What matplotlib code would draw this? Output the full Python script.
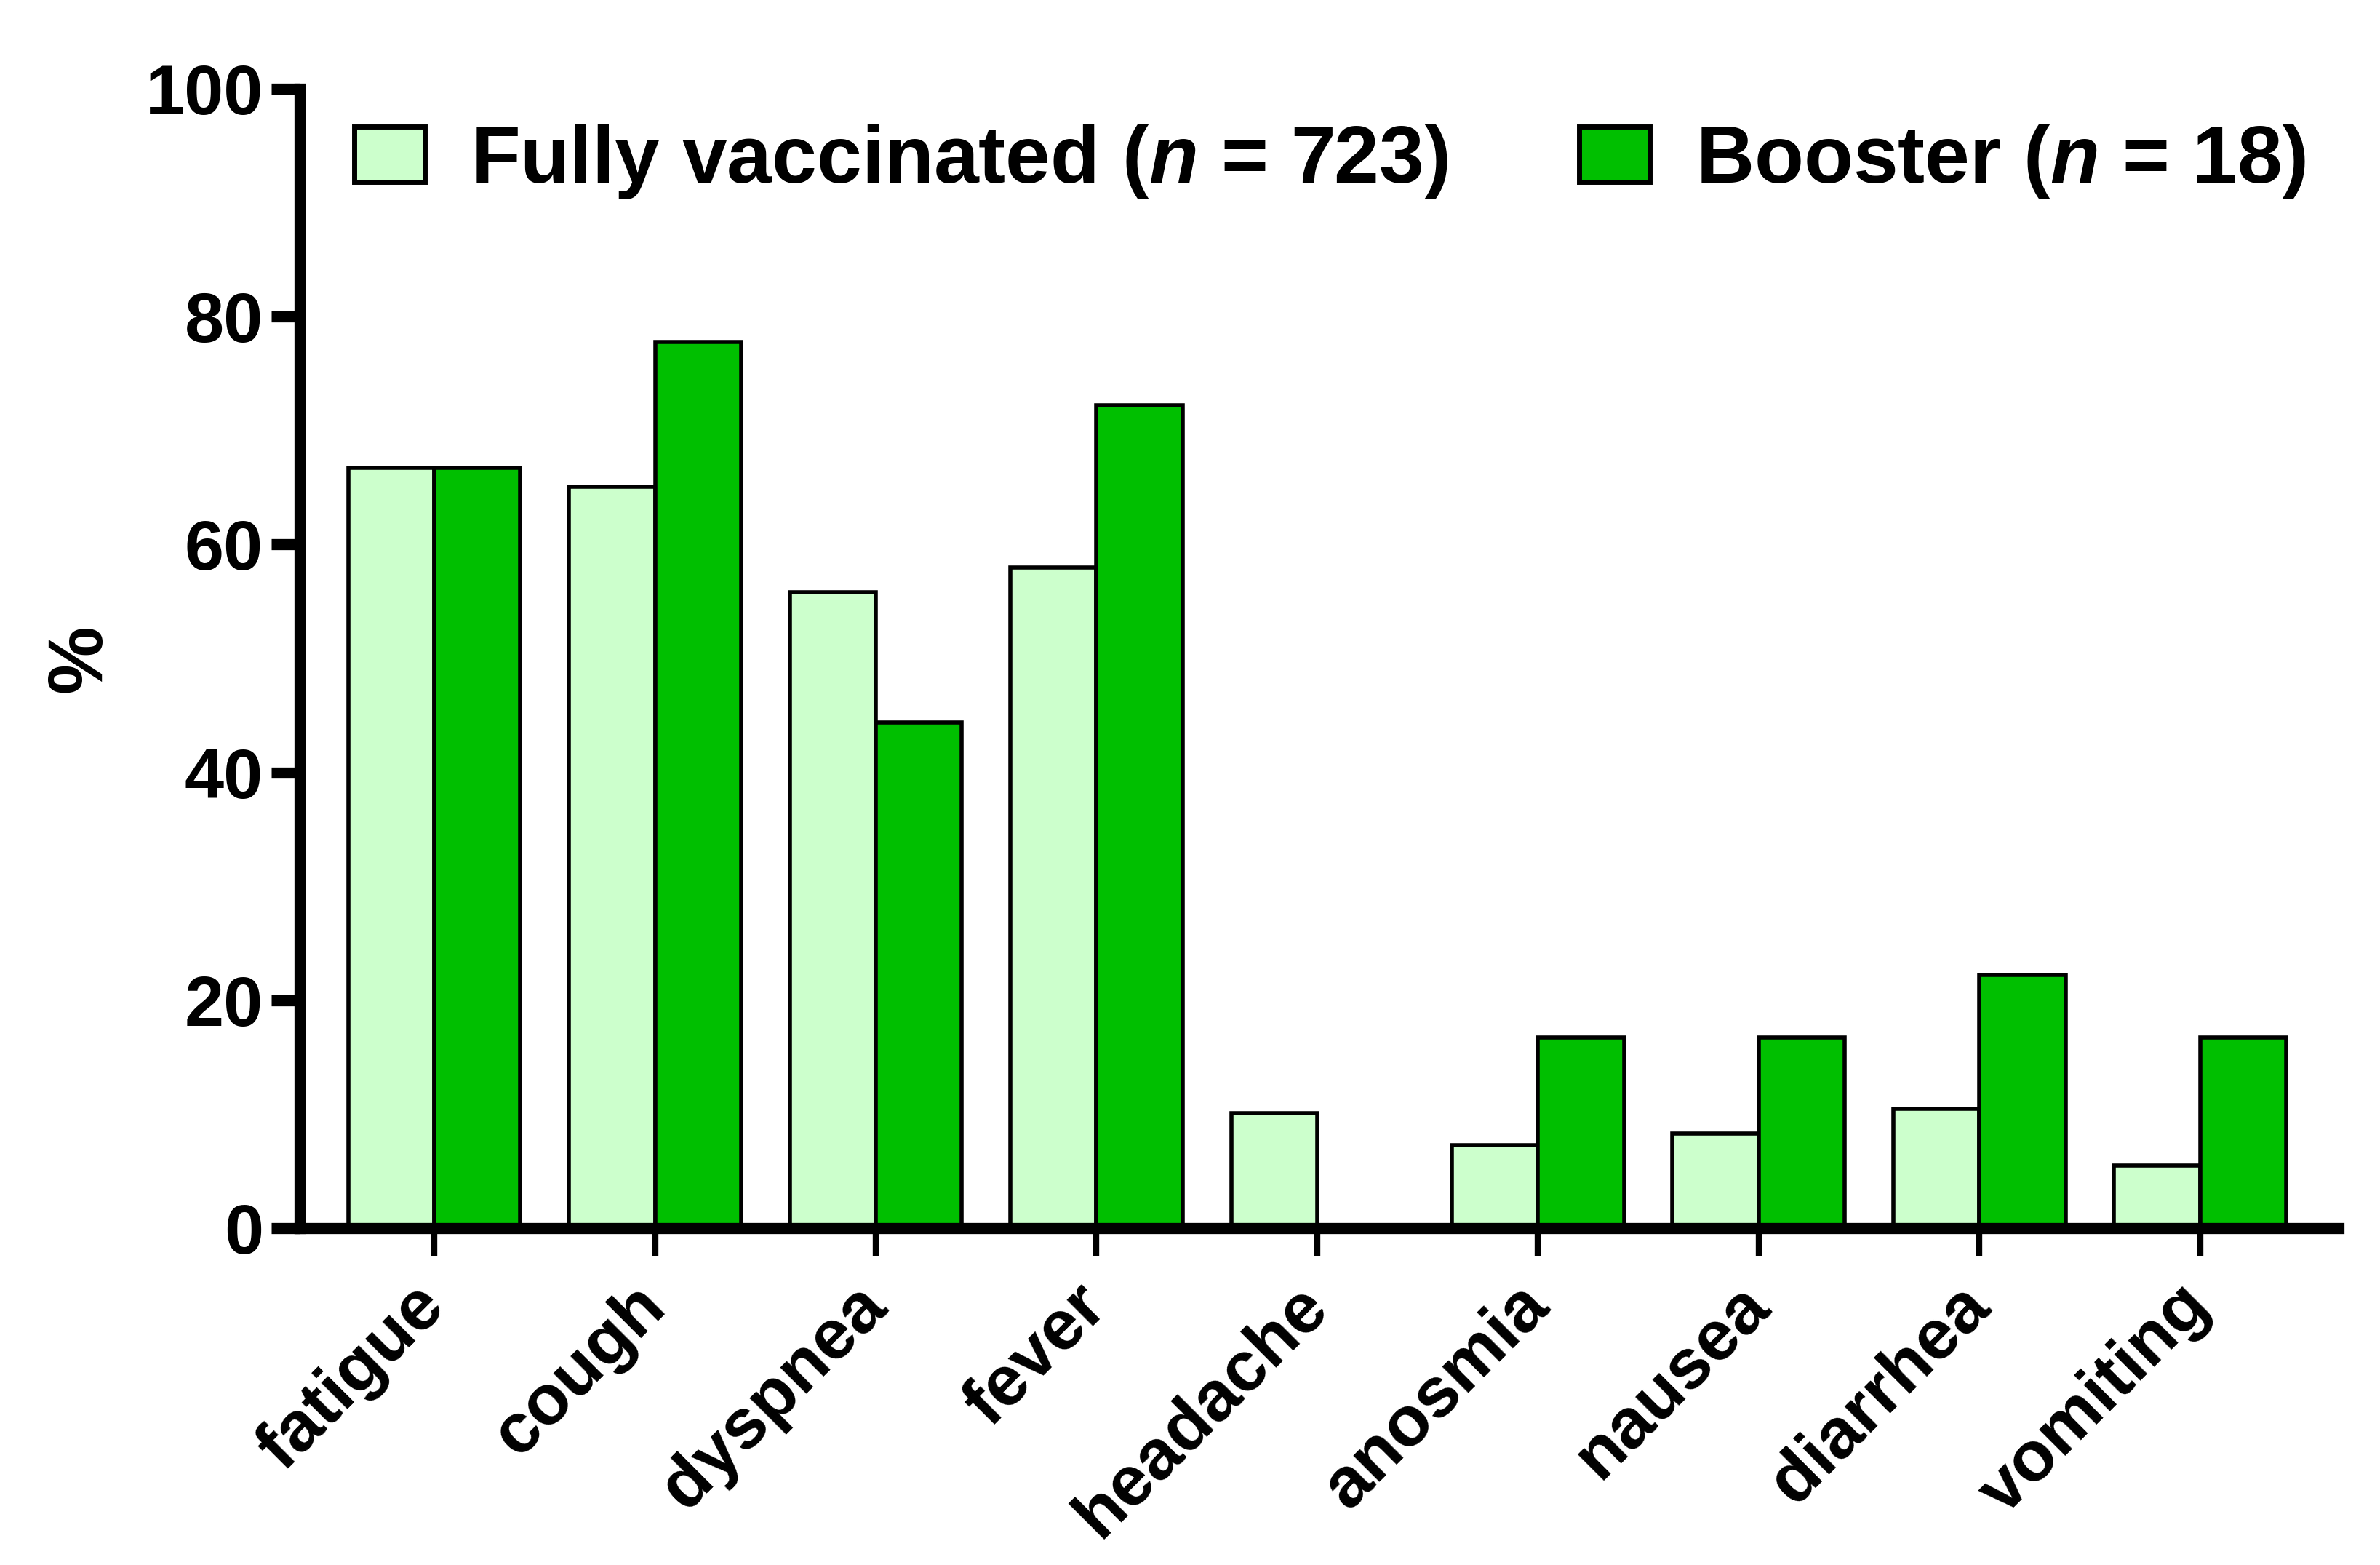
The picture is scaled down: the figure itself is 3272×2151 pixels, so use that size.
import matplotlib
matplotlib.use("Agg")
import matplotlib.pyplot as plt
import matplotlib.patches as mpatches
import matplotlib.transforms as mtransforms
import numpy as np

categories = ["fatigue", "cough", "dyspnea", "fever", "headache",
              "anosmia", "nausea", "diarrhea", "vomiting"]
fully_vaccinated = [66.7, 65.1, 55.8, 58.0, 10.1, 7.3, 8.3, 10.5, 5.5]
booster = [66.7, 77.8, 44.4, 72.2, 0.0, 16.7, 16.7, 22.2, 16.7]
series_labels = [r"Fully vaccinated ($\mathit{n}$ = 723)",
                 r"Booster ($\mathit{n}$ = 18)"]
yticks = [0, 20, 40, 60, 80, 100]

light_green = "#CCFFCC"
dark_green = "#00BF00"

plt.rcParams['font.family'] = ['Liberation Sans', 'DejaVu Sans']
plt.rcParams['font.weight'] = 'bold'
plt.rcParams['mathtext.fontset'] = 'custom'
plt.rcParams['mathtext.rm'] = 'Liberation Sans:bold'
plt.rcParams['mathtext.it'] = 'Liberation Sans:italic:bold'

W, H = 3272, 2151
dpi = 200
fig = plt.figure(figsize=(W / dpi, H / dpi), dpi=dpi)
ax = fig.add_axes([412 / W, 1 - 1688 / H, (3215 - 412) / W, (1688 - 122) / H])

x = np.arange(len(categories))
bw = 0.39
ax.bar(x - bw / 2, fully_vaccinated, width=bw, color=light_green,
       edgecolor="black", linewidth=2.0, zorder=2)
ax.bar(x + bw / 2, booster, width=bw, color=dark_green,
       edgecolor="black", linewidth=2.0, zorder=2)

ax.set_xlim(-0.61, 8.627)
ax.set_ylim(0, 100)
ax.set_yticks(yticks)
ax.set_yticklabels([str(v) for v in yticks], fontsize=35, fontweight='bold')
ax.set_xticks(x)
ax.set_xticklabels(categories, rotation=45, ha='right', va='center',
                   rotation_mode='anchor', fontsize=35, fontweight='bold')
offset = mtransforms.ScaledTranslation(7 / 72, 0, fig.dpi_scale_trans)
for lbl in ax.get_xticklabels():
    lbl.set_transform(lbl.get_transform() + offset)

for s in ['top', 'right']:
    ax.spines[s].set_visible(False)
for s in ['left', 'bottom']:
    ax.spines[s].set_linewidth(5.5)
    ax.spines[s].set_zorder(3)
ax.tick_params(axis='y', direction='out', length=14, width=5.5, pad=4)
ax.tick_params(axis='x', direction='out', length=13.5, width=3, pad=20)

ax.set_ylabel("%", fontsize=38, fontweight='bold', labelpad=14)

handles = [mpatches.Patch(facecolor=light_green, edgecolor='black', linewidth=2.5),
           mpatches.Patch(facecolor=dark_green, edgecolor='black', linewidth=2.5)]
fig.legend(handles, series_labels, loc='center left',
           bbox_to_anchor=(487 / W, 1 - 222 / H), ncol=2, frameon=False,
           prop={'size': 40, 'weight': 'bold'}, borderpad=0, borderaxespad=0,
           handlelength=0.87, handleheight=0.68, handletextpad=0.57,
           columnspacing=1.62)

fig.savefig("out.png", dpi=dpi, facecolor='white')
